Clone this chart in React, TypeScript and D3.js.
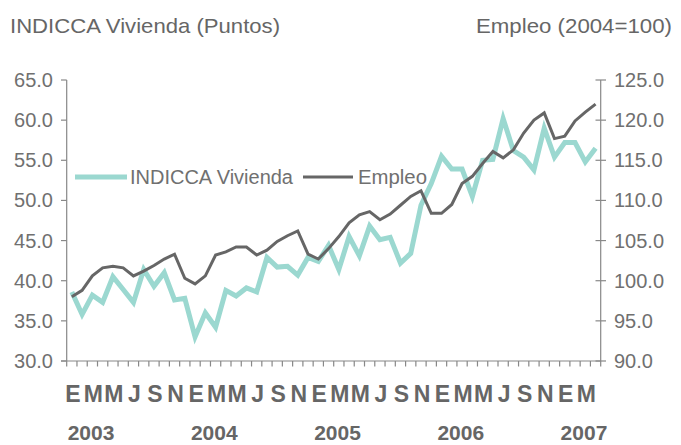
import React from "react";
import * as d3 from "d3";

const monthLetters = ["E", "F", "M", "A", "M", "J", "J", "A", "S", "O", "N", "D"];
const years = ["2003", "2004", "2005", "2006", "2007"];
const leftTicks = [30, 35, 40, 45, 50, 55, 60, 65];
const rightTicks = [90, 95, 100, 105, 110, 115, 120, 125];

// INDICCA Vivienda (Puntos), monthly Jan 2003 - Apr 2007
const indicca = [
  38.6, 35.8, 38.2, 37.3, 40.5, 38.9, 37.3, 41.4, 39.3, 41.0, 37.6, 37.8,
  33.0, 36.0, 34.2, 38.8, 38.1, 39.1, 38.6, 42.9, 41.7, 41.8, 40.7, 42.9,
  42.4, 44.4, 41.4, 45.5, 43.1, 46.8, 45.1, 45.4, 42.2, 43.4, 49.4, 52.1,
  55.5, 53.9, 53.9, 50.5, 55.0, 55.1, 60.2, 56.2, 55.4, 53.8, 59.0, 55.4,
  57.2, 57.2, 54.8, 56.5,
];
// Empleo (2004=100)
const empleo = [
  98.0, 98.8, 100.6, 101.6, 101.8, 101.6, 100.6, 101.2, 101.9, 102.7, 103.3, 100.3,
  99.6, 100.6, 103.2, 103.6, 104.2, 104.2, 103.2, 103.8, 104.9, 105.6, 106.2, 103.3,
  102.7, 104.0, 105.5, 107.2, 108.2, 108.6, 107.6, 108.3, 109.4, 110.5, 111.2, 108.4,
  108.4, 109.5, 112.1, 113.0, 114.6, 116.1, 115.3, 116.3, 118.4, 120.0, 120.9, 117.7,
  118.0, 119.9, 121.0, 122.0,
];

const TEAL = "#9bd8d0";
const GRAY = "#666666";
const AXIS = "#888888";
const TEXT = "#707070";

export default function App() {
  const n = indicca.length;
  const idx = d3.range(n);
  const x = d3.scaleBand<number>().domain(idx).range([66.7, 600.7]).padding(0);
  const bw = x.bandwidth();
  const cx = (i: number) => (x(i) as number) + bw / 2;
  const yL = d3.scaleLinear().domain([30, 65]).range([361, 80]);
  const yR = d3.scaleLinear().domain([90, 125]).range([361, 80]);

  const lineL = d3.line<number>().x((_, i) => cx(i)).y((d) => yL(d));
  const lineR = d3.line<number>().x((_, i) => cx(i)).y((d) => yR(d));

  const x0 = 66.7;
  const x1 = 600.7;
  const yBase = 361;

  return (
    <svg
      width={681}
      height={445}
      style={{ position: "absolute", left: 0, top: 0, background: "#fff" }}
    >
      {/* titles */}
      <text
        x={10}
        y={33}
        fontFamily="'Liberation Sans Narrow', 'Liberation Sans', sans-serif"
        fontSize={21}
        fill={GRAY}
        textLength={270}
        lengthAdjust="spacingAndGlyphs"
      >
        INDICCA Vivienda (Puntos)
      </text>
      <text
        x={476}
        y={33}
        fontFamily="'Liberation Sans Narrow', 'Liberation Sans', sans-serif"
        fontSize={21}
        fill={GRAY}
        textLength={196}
        lengthAdjust="spacingAndGlyphs"
      >
        Empleo (2004=100)
      </text>

      {/* axes */}
      <line x1={x0} y1={80} x2={x0} y2={yBase} stroke={AXIS} strokeWidth={1.2} />
      <line x1={x1} y1={80} x2={x1} y2={yBase} stroke={AXIS} strokeWidth={1.2} />
      <line x1={61} y1={yBase} x2={x1} y2={yBase} stroke={AXIS} strokeWidth={1.2} />

      {leftTicks.map((t) => (
        <g key={"l" + t}>
          <line x1={61} x2={x0} y1={yL(t)} y2={yL(t)} stroke={AXIS} strokeWidth={1.2} />
          <text
            x={53}
            y={yL(t) + 7}
            textAnchor="end"
            fontFamily="'Liberation Sans', Arial, sans-serif"
            fontSize={20}
            fill={TEXT}
          >
            {t.toFixed(1)}
          </text>
        </g>
      ))}
      {rightTicks.map((t) => (
        <g key={"r" + t}>
          <line x1={595.5} x2={606} y1={yR(t)} y2={yR(t)} stroke={AXIS} strokeWidth={1.2} />
          <text
            x={614}
            y={yR(t) + 7}
            textAnchor="start"
            fontFamily="'Liberation Sans', Arial, sans-serif"
            fontSize={20}
            fill={TEXT}
          >
            {t.toFixed(1)}
          </text>
        </g>
      ))}

      {d3.range(n + 1).map((i) => {
        const xx = x0 + i * bw;
        return (
          <line key={"xt" + i} x1={xx} x2={xx} y1={yBase} y2={yBase + 5.5} stroke={AXIS} strokeWidth={1.2} />
        );
      })}

      {/* month labels */}
      {idx
        .filter((i) => i % 2 === 0)
        .map((i) => (
          <text
            key={"m" + i}
            x={cx(i) + 1}
            y={402}
            textAnchor="middle"
            fontFamily="'Liberation Sans', Arial, sans-serif"
            fontWeight="bold"
            fontSize={23}
            fill={GRAY}
          >
            {monthLetters[i % 12]}
          </text>
        ))}
      {years.map((yr, k) => (
        <text
          key={yr}
          x={x0 + k * 12 * bw + 1}
          y={440}
          fontFamily="'Liberation Sans', Arial, sans-serif"
          fontWeight="bold"
          fontSize={21}
          fill={GRAY}
        >
          {yr}
        </text>
      ))}

      {/* series */}
      <path d={lineL(indicca) || ""} fill="none" stroke={TEAL} strokeWidth={5} strokeLinejoin="miter" />
      <path d={lineR(empleo) || ""} fill="none" stroke={GRAY} strokeWidth={3} strokeLinejoin="miter" />

      {/* legend */}
      <line x1={75} x2={127} y1={177} y2={177} stroke={TEAL} strokeWidth={5} />
      <text
        x={130}
        y={184}
        fontFamily="'Liberation Sans', Arial, sans-serif"
        fontSize={20}
        fill={TEXT}
        textLength={163}
        lengthAdjust="spacingAndGlyphs"
      >
        INDICCA Vivienda
      </text>
      <line x1={303} x2={353} y1={177} y2={177} stroke={GRAY} strokeWidth={3} />
      <text
        x={358}
        y={184}
        fontFamily="'Liberation Sans', Arial, sans-serif"
        fontSize={20}
        fill={TEXT}
        textLength={69}
        lengthAdjust="spacingAndGlyphs"
      >
        Empleo
      </text>
    </svg>
  );
}
